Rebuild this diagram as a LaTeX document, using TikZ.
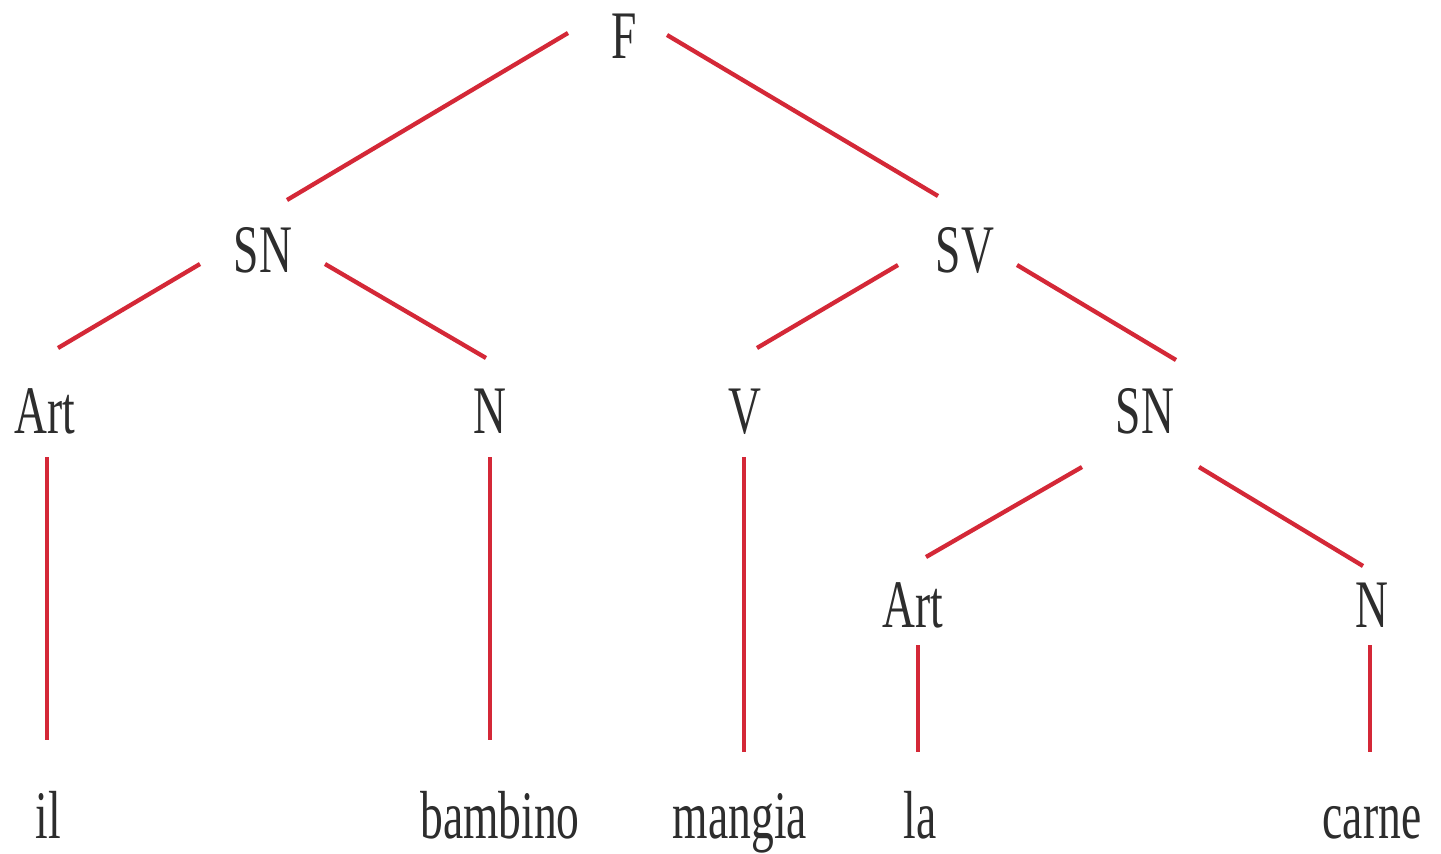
\documentclass[tikz,border=0pt]{standalone}
\usepackage{fontspec}
\usepackage{graphicx}
\setmainfont{Liberation Serif}
\definecolor{treered}{RGB}{212,40,55}
\definecolor{treetext}{RGB}{45,45,45}
\newcommand{\lbl}[1]{\scalebox{0.67}[1]{#1}}
\begin{document}
\begin{tikzpicture}[x=1pt,y=-1pt,
  lab/.style={anchor=base,inner sep=0pt,text=treetext,font=\fontsize{68}{80}\selectfont},
  edge/.style={draw=treered,line width=4.3pt}]
\useasboundingbox[fill=white] (0,0) rectangle (1441,854);
\node[lab] (F) at (624,58) {\lbl{F}};
\node[lab] (SN) at (263,272) {\lbl{SN}};
\node[lab] (SV) at (965,272) {\lbl{SV}};
\node[lab] (Art) at (45,433) {\lbl{Art}};
\node[lab] (N) at (490,433) {\lbl{N}};
\node[lab] (V) at (745,433) {\lbl{V}};
\node[lab] (SNb) at (1145,433) {\lbl{SN}};
\node[lab] (Artb) at (913,627) {\lbl{Art}};
\node[lab] (Nb) at (1372,627) {\lbl{N}};
\node[lab] (il) at (48,838) {\lbl{il}};
\node[lab] (bambino) at (500,838) {\lbl{bambino}};
\node[lab] (mangia) at (740,838) {\lbl{mangia}};
\node[lab] (la) at (920,838) {\lbl{la}};
\node[lab] (carne) at (1372,838) {\lbl{carne}};
\draw[edge] ([shift={(-56,-25)}]F.base) -- ([shift={(24,-72)}]SN.base);
\draw[edge] ([shift={(43,-23)}]F.base) -- ([shift={(-27,-76)}]SV.base);
\draw[edge] ([shift={(-63,-8)}]SN.base) -- ([shift={(13,-85)}]Art.base);
\draw[edge] ([shift={(62,-8)}]SN.base) -- ([shift={(-4,-75)}]N.base);
\draw[edge] ([shift={(-67,-7)}]SV.base) -- ([shift={(12,-85)}]V.base);
\draw[edge] ([shift={(52,-7)}]SV.base) -- ([shift={(31,-73)}]SNb.base);
\draw[edge] ([shift={(2,24)}]Art.base) -- ([shift={(-1,-98)}]il.base);
\draw[edge] ([shift={(0,24)}]N.base) -- ([shift={(-10,-98)}]bambino.base);
\draw[edge] ([shift={(-1,24)}]V.base) -- ([shift={(4,-86)}]mangia.base);
\draw[edge] ([shift={(-63,34)}]SNb.base) -- ([shift={(13,-70)}]Artb.base);
\draw[edge] ([shift={(54,34)}]SNb.base) -- ([shift={(-9,-61)}]Nb.base);
\draw[edge] ([shift={(5,18)}]Artb.base) -- ([shift={(-2,-86)}]la.base);
\draw[edge] ([shift={(-2,18)}]Nb.base) -- ([shift={(-2,-86)}]carne.base);
\end{tikzpicture}
\end{document}
